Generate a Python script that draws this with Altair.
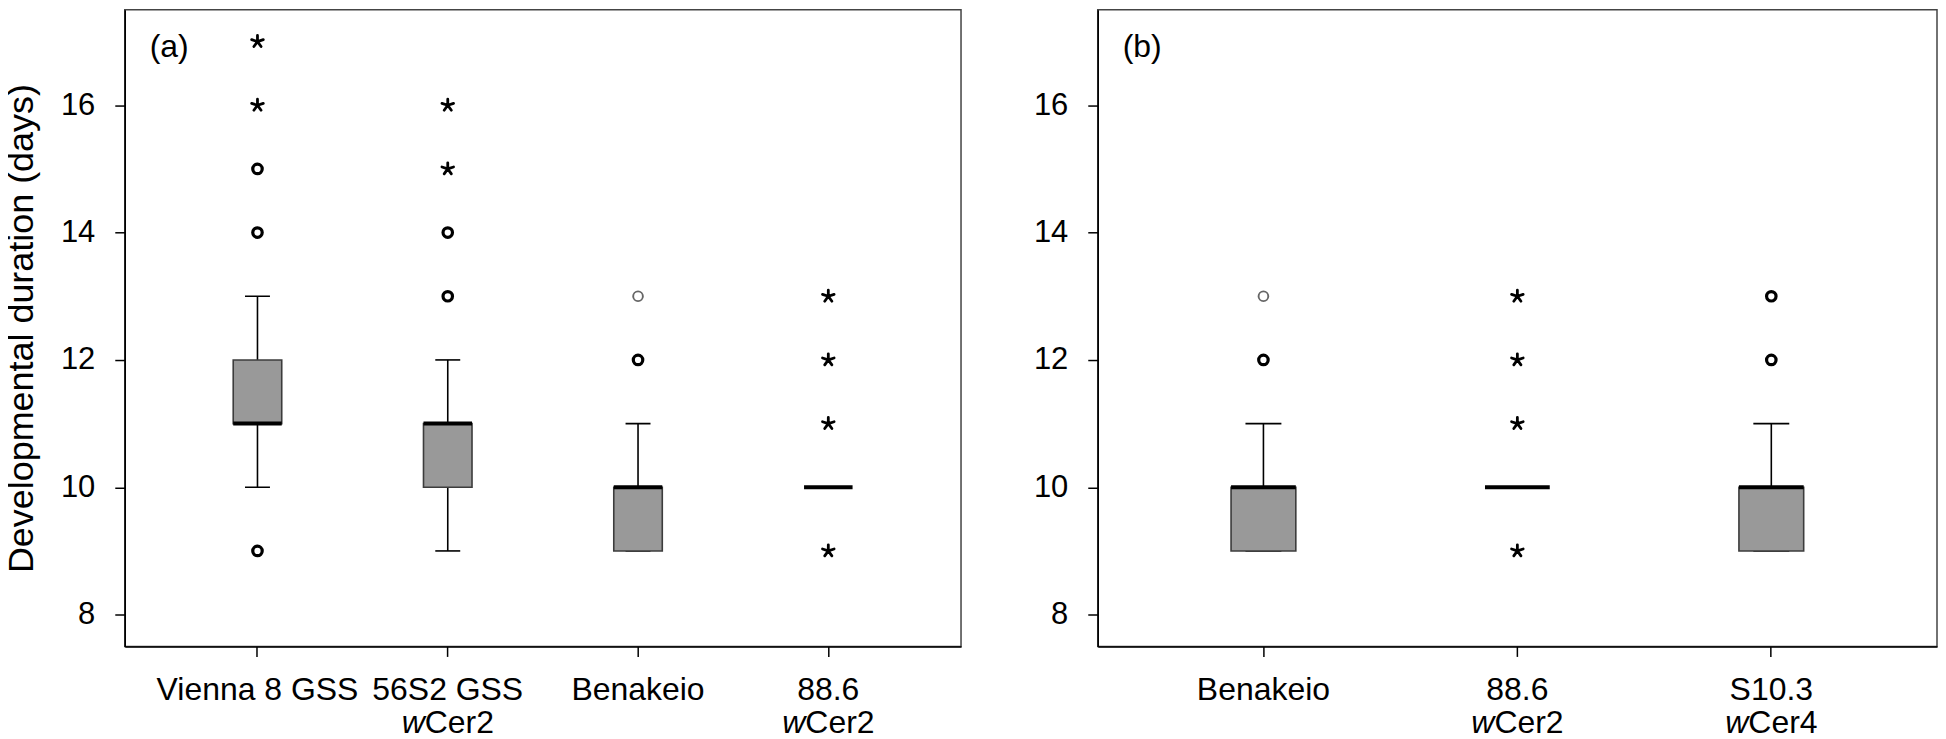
import altair as alt
import pandas as pd

FONT = "Liberation Sans"

# ---------------- data ----------------
Y_TICKS = [8, 10, 12, 14, 16]

# panel (a)
a_groups = ["Vienna 8 GSS", "56S2 GSS", "Benakeio", "88.6"]
a_line2 = ["", "Cer2", "", "Cer2"]
a_q1 = [11, 10, 9, 10]
a_med = [11, 11, 10, 10]
a_q3 = [12, 11, 10, 10]
a_lo = [10, 9, 9, 10]
a_hi = [13, 12, 11, 10]
a_circ_group = ["Vienna 8 GSS", "Vienna 8 GSS", "Vienna 8 GSS", "56S2 GSS", "56S2 GSS", "Benakeio", "Benakeio"]
a_circ_value = [9, 14, 15, 13, 14, 12, 13]
a_circ_light = [0, 0, 0, 0, 0, 0, 1]
a_star_group = ["Vienna 8 GSS", "Vienna 8 GSS", "56S2 GSS", "56S2 GSS", "88.6", "88.6", "88.6", "88.6"]
a_star_value = [16, 17, 15, 16, 9, 11, 12, 13]

# panel (b)
b_groups = ["Benakeio", "88.6", "S10.3"]
b_line2 = ["", "Cer2", "Cer4"]
b_q1 = [9, 10, 9]
b_med = [10, 10, 10]
b_q3 = [10, 10, 10]
b_lo = [9, 10, 9]
b_hi = [11, 10, 11]
b_circ_group = ["Benakeio", "Benakeio", "S10.3", "S10.3"]
b_circ_value = [12, 13, 12, 13]
b_circ_light = [0, 1, 0, 0]
b_star_group = ["88.6", "88.6", "88.6", "88.6"]
b_star_value = [9, 11, 12, 13]

STAR = "M0,0L0,-1M0,0L0.951,-0.309M0,0L0.588,0.809M0,0L-0.588,0.809M0,0L-0.951,-0.309"

HEIGHT = 638
PAD_INNER = 0.745


def panel(groups, line2, q1, med, q3, lo, hi, cg, cv, cl, sg, sv,
          width, pad_outer, cap_size, tag, show_title):
    n = len(groups)
    step = width / (n - PAD_INNER + 2 * pad_outer)
    bw = step * (1 - PAD_INNER)

    xscale = alt.Scale(domain=groups, paddingInner=PAD_INNER, paddingOuter=pad_outer)
    xaxis = alt.Axis(title=None, labelAngle=0, labelFontSize=32, labelPadding=18,
                     labelLimit=0, tickSize=10, grid=False)

    def X():
        return alt.X("g:N", scale=xscale, sort=groups, axis=xaxis)

    yscale = alt.Scale(domain=[7.5, 17.5], nice=False, zero=False)
    yaxis = alt.Axis(values=Y_TICKS, labelFontSize=31, labelPadding=20, tickSize=10,
                     titleFontSize=36, titlePadding=20, grid=False,
                     titleFontWeight="normal",
                     title="Developmental duration (days)" if show_title else None)

    def Y(field):
        return alt.Y(f"{field}:Q", scale=yscale, axis=yaxis)

    df = pd.DataFrame({"g": groups, "q1": q1, "med": med, "q3": q3, "lo": lo, "hi": hi,
                       "l2": line2})

    box_df = df[df.q3 > df.q1]
    up_df = df[df.hi > df.q3]
    low_df = df[df.lo < df.q1]
    cap_rows = []
    for _, r in df.iterrows():
        if r.hi > r.q3:
            cap_rows.append({"g": r.g, "v": r.hi})
        if r.q3 > r.q1:
            cap_rows.append({"g": r.g, "v": r.lo})
    cap_df = pd.DataFrame(cap_rows)

    circ = pd.DataFrame({"g": cg, "v": cv, "light": cl})
    dark_c = circ[circ.light == 0]
    light_c = circ[circ.light == 1]
    stars = pd.DataFrame({"g": sg, "v": sv})
    l2_df = df[df.l2 != ""]

    up = alt.Chart(up_df).mark_rule(color="black", strokeWidth=1.6).encode(
        x=X(), y=Y("q3"), y2="hi")
    low = alt.Chart(low_df).mark_rule(color="black", strokeWidth=1.6).encode(
        x=X(), y=Y("lo"), y2="q1")
    caps = alt.Chart(cap_df).mark_tick(color="black", thickness=1.6, size=cap_size,
                                       opacity=1).encode(x=X(), y=Y("v"))
    boxes = alt.Chart(box_df).mark_bar(fill="#999999", stroke="#3c3c3c",
                                       strokeWidth=1.6).encode(x=X(), y=Y("q1"), y2="q3")
    meds = alt.Chart(df).mark_tick(color="black", thickness=4, size=bw,
                                   opacity=1).encode(x=X(), y=Y("med"))
    dots = alt.Chart(dark_c).mark_point(shape="circle", filled=False, color="black",
                                        size=90, strokeWidth=3.2, opacity=1).encode(
        x=X(), y=Y("v"))
    lights = alt.Chart(light_c).mark_point(shape="circle", filled=False, color="#666666",
                                           size=95, strokeWidth=1.9, opacity=1).encode(
        x=X(), y=Y("v"))
    st = alt.Chart(stars).mark_point(shape=STAR, filled=False, color="black", size=150,
                                     strokeWidth=2.8, strokeCap="round", opacity=1).encode(
        x=X(), y=Y("v"))
    w_txt = alt.Chart(l2_df).mark_text(text="w", font=FONT, fontStyle="italic", fontSize=32,
                                       align="right", baseline="alphabetic", dx=-23,
                                       color="black").encode(
        x=X(), y=alt.value(HEIGHT + 87))
    rest_txt = alt.Chart(l2_df).mark_text(font=FONT, fontSize=32, align="left",
                                          baseline="alphabetic", dx=-23,
                                          color="black").encode(
        x=X(), y=alt.value(HEIGHT + 87), text="l2:N")
    tag_txt = alt.Chart(pd.DataFrame({"t": [tag]})).mark_text(
        font=FONT, fontSize=32, align="left", baseline="alphabetic",
        color="black").encode(x=alt.value(25), y=alt.value(47), text="t:N")

    return alt.layer(up, low, caps, boxes, meds, dots, lights, st,
                     w_txt, rest_txt, tag_txt).properties(width=width, height=HEIGHT)


pa = panel(a_groups, a_line2, a_q1, a_med, a_q3, a_lo, a_hi,
           a_circ_group, a_circ_value, a_circ_light, a_star_group, a_star_value,
           width=838, pad_outer=0.57, cap_size=25, tag="(a)", show_title=True)
pb = panel(b_groups, b_line2, b_q1, b_med, b_q3, b_lo, b_hi,
           b_circ_group, b_circ_value, b_circ_light, b_star_group, b_star_value,
           width=841, pad_outer=0.525, cap_size=36, tag="(b)", show_title=False)

chart = alt.hconcat(pa, pb, spacing=70).properties(
    padding={"left": -6, "top": 0, "right": 0, "bottom": 0}, background="white"
).configure_view(
    stroke="#444444", strokeWidth=1.5
).configure_axis(
    grid=False, domainColor="black", domainWidth=1.5, tickColor="black", tickWidth=1.5,
    labelColor="black", labelFont=FONT, titleFont=FONT, titleColor="black",
    titleFontWeight="normal"
)

chart.save("out.html", embed_options={"renderer": "svg", "actions": False})
